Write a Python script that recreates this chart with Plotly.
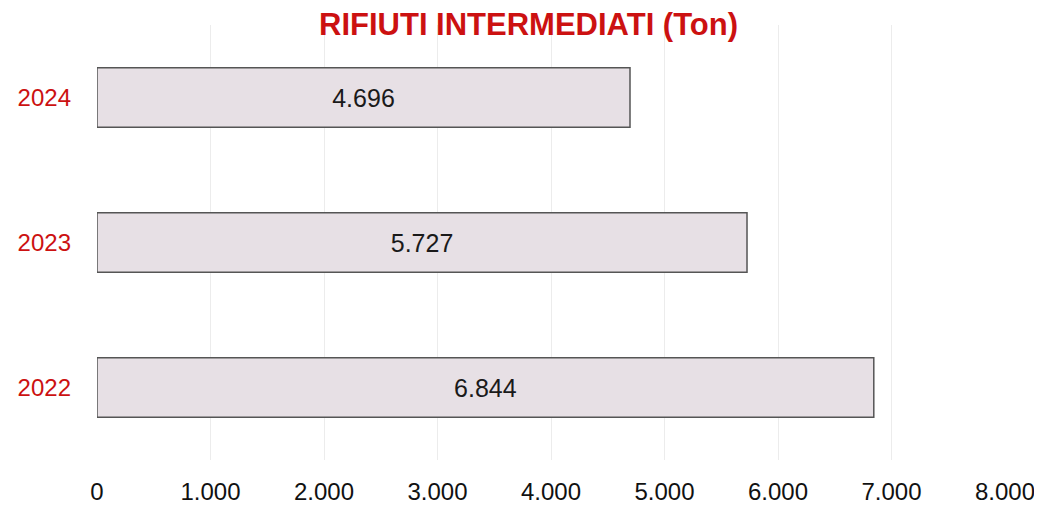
import plotly.graph_objects as go

years = ["2022", "2023", "2024"]
values = [6844, 5727, 4696]
x_ticks = [0, 1000, 2000, 3000, 4000, 5000, 6000, 7000, 8000]
title_text = "RIFIUTI INTERMEDIATI (Ton)"

fig = go.Figure(
    go.Bar(
        y=years,
        x=values,
        orientation="h",
        width=0.41,
        marker=dict(color="#e7e0e5", line=dict(color="#555555", width=1.5)),
        texttemplate="%{x:,d}",
        textposition="inside",
        insidetextanchor="middle",
        textfont=dict(family="Liberation Sans, Arial", size=25, color="#1a1a1a"),
    )
)

fig.update_layout(
    width=1034,
    height=500,
    paper_bgcolor="white",
    plot_bgcolor="white",
    separators=",.",
    margin=dict(l=89, r=37, t=17, b=48),
    showlegend=False,
    title=dict(
        text=title_text,
        x=0.5034,
        xanchor="center",
        y=0.968,
        yanchor="middle",
        font=dict(family="Liberation Sans, Arial", size=31, color="#cc1111", weight="bold"),
    ),
    xaxis=dict(
        range=[0, 8000],
        tickvals=x_ticks,
        tickformat=",d",
        showgrid=True,
        gridcolor="#ececec",
        gridwidth=1,
        zeroline=False,
        showline=False,
        ticks="",
        automargin=False,
        ticklabelstandoff=15,
        tickfont=dict(family="Liberation Sans, Arial", size=24, color="#111111"),
    ),
    yaxis=dict(
        categoryorder="array",
        categoryarray=years,
        showgrid=False,
        zeroline=False,
        showline=False,
        ticks="",
        automargin=False,
        ticklabelstandoff=25,
        tickfont=dict(family="Liberation Sans, Arial", size=24, color="#cc1111"),
    ),
)

fig.write_html("out.html")
